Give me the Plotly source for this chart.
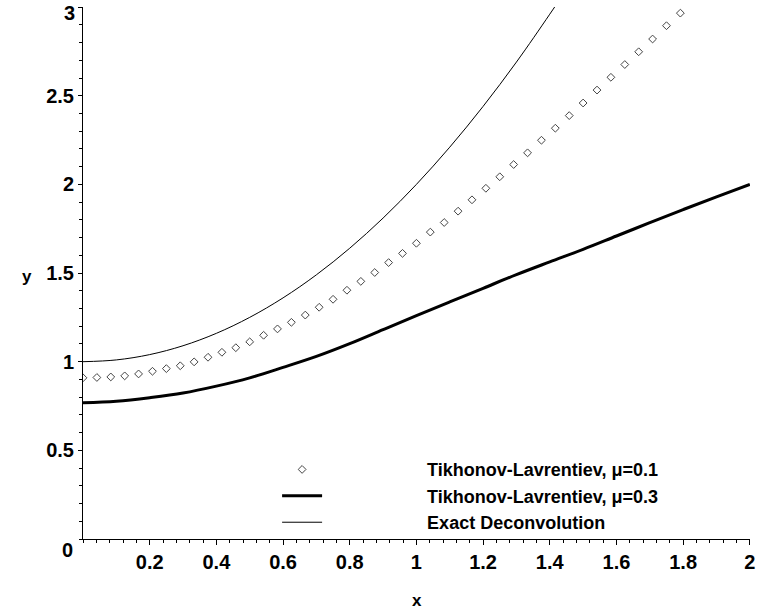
import plotly.graph_objects as go

# ---- data ----
# Tikhonov-Lavrentiev, mu = 0.1 (point plot, step 1/24)
mu01_x = [i / 24 for i in range(44)]
mu01_y = [0.909, 0.911, 0.914, 0.920, 0.931, 0.946, 0.961, 0.977, 0.999, 1.025,
          1.053, 1.079, 1.112, 1.149, 1.185, 1.222, 1.263, 1.307, 1.352, 1.403,
          1.453, 1.503, 1.559, 1.611, 1.668, 1.731, 1.785, 1.849, 1.913, 1.978,
          2.043, 2.112, 2.178, 2.249, 2.317, 2.388, 2.459, 2.532, 2.604, 2.676,
          2.748, 2.820, 2.895, 2.966]

# Tikhonov-Lavrentiev, mu = 0.3 (thick line)
mu03_x = [0.0, 0.1, 0.2, 0.3, 0.4, 0.5, 0.6, 0.7, 0.8, 0.9, 1.0,
          1.1, 1.2, 1.3, 1.4, 1.5, 1.6, 1.7, 1.8, 1.9, 2.0]
mu03_y = [0.768, 0.777, 0.797, 0.823, 0.862, 0.909, 0.968, 1.030, 1.102, 1.181, 1.260,
          1.337, 1.414, 1.491, 1.563, 1.634, 1.709, 1.784, 1.858, 1.930, 2.000]

# Exact deconvolution (thin line)
exact_x = [0.0, 0.1, 0.2, 0.3, 0.4, 0.5, 0.6, 0.7, 0.8, 0.9, 1.0,
           1.1, 1.2, 1.3, 1.4, 1.45]
exact_y = [1.00, 1.01, 1.04, 1.09, 1.16, 1.25, 1.36, 1.49, 1.64, 1.81, 2.00,
           2.21, 2.44, 2.69, 2.96, 3.10]

x_ticks = [0.2, 0.4, 0.6, 0.8, 1.0, 1.2, 1.4, 1.6, 1.8, 2.0]
x_labels = ["0.2", "0.4", "0.6", "0.8", "1", "1.2", "1.4", "1.6", "1.8", "2"]
y_ticks = [0.5, 1.0, 1.5, 2.0, 2.5, 3.0]
y_labels = ["0.5", "1", "1.5", "2", "2.5", ""]   # "3" drawn below as a label kept inside the page
y_top_label = "3"

names = ["Tikhonov-Lavrentiev, \u03bc=0.1",
         "Tikhonov-Lavrentiev, \u03bc=0.3",
         "Exact Deconvolution"]

FONT = "Liberation Sans, Arial, sans-serif"
PAD = "\u00a0" * 20
TICKF = dict(family=FONT, size=20, color="black", weight="bold")

fig = go.Figure()
fig.add_trace(go.Scatter(
    x=mu01_x, y=mu01_y, mode="markers", name=PAD + names[0],
    marker=dict(symbol="diamond-open", size=6, color="#444444",
                line=dict(width=1, color="#444444")),
))
fig.add_trace(go.Scatter(
    x=mu03_x, y=mu03_y, mode="lines", name=PAD + names[1],
    line=dict(color="black", width=3, shape="spline"),
))
fig.add_trace(go.Scatter(
    x=exact_x, y=exact_y, mode="lines", name=PAD + names[2],
    line=dict(color="black", width=1, shape="spline"),
))

fig.update_layout(
    width=760, height=613,
    margin=dict(l=83, r=10, t=7, b=74, autoexpand=False),
    paper_bgcolor="white", plot_bgcolor="white",
    showlegend=True,
    legend=dict(x=0.291, y=0.165, xanchor="left", yanchor="top",
                bgcolor="rgba(0,0,0,0)", itemwidth=40,
                font=dict(family=FONT, size=18, color="black", weight="bold"),
                tracegroupgap=0),
    xaxis=dict(range=[0, 2.0005], tickvals=x_ticks, ticktext=x_labels,
               automargin=False,
               showgrid=False, zeroline=False, showline=True,
               linecolor="black", linewidth=1, ticks="outside",
               ticklen=5, tickcolor="black", tickwidth=1,
               ticklabeloverflow="allow",
               minor=dict(dtick=0.04, ticks="outside", ticklen=3,
                          tickcolor="black", showgrid=False),
               tickfont=TICKF),
    yaxis=dict(range=[0, 3.0005], tickvals=y_ticks, ticktext=y_labels,
               automargin=False,
               showgrid=False, zeroline=False, showline=True,
               linecolor="black", linewidth=1, ticks="outside",
               ticklen=4, tickcolor="black", tickwidth=1,
               ticklabeloverflow="allow",
               minor=dict(dtick=0.1, ticks="outside", ticklen=3,
                          tickcolor="black", showgrid=False),
               tickfont=TICKF),
    annotations=[
        dict(text="0", x=0, y=0, xref="x", yref="y", showarrow=False,
             xanchor="right", yanchor="middle", xshift=-8, yshift=-11,
             font=TICKF),
        dict(text=y_top_label, x=0, y=1, xref="x", yref="paper", showarrow=False,
             xanchor="right", yanchor="top", xshift=-6, yshift=7,
             font=TICKF),
        dict(text="x", x=0.5, y=-0.115, xref="paper", yref="paper", showarrow=False,
             xanchor="center", yanchor="middle",
             font=dict(family=FONT, size=17, color="black", weight="bold")),
        dict(text="y", x=-0.084, y=0.494, xref="paper", yref="paper", showarrow=False,
             xanchor="center", yanchor="middle",
             font=dict(family=FONT, size=17, color="black", weight="bold")),
    ],
)

fig.write_html("out.html", config={"displayModeBar": False},
               post_script="document.body.style.margin='0px';")
